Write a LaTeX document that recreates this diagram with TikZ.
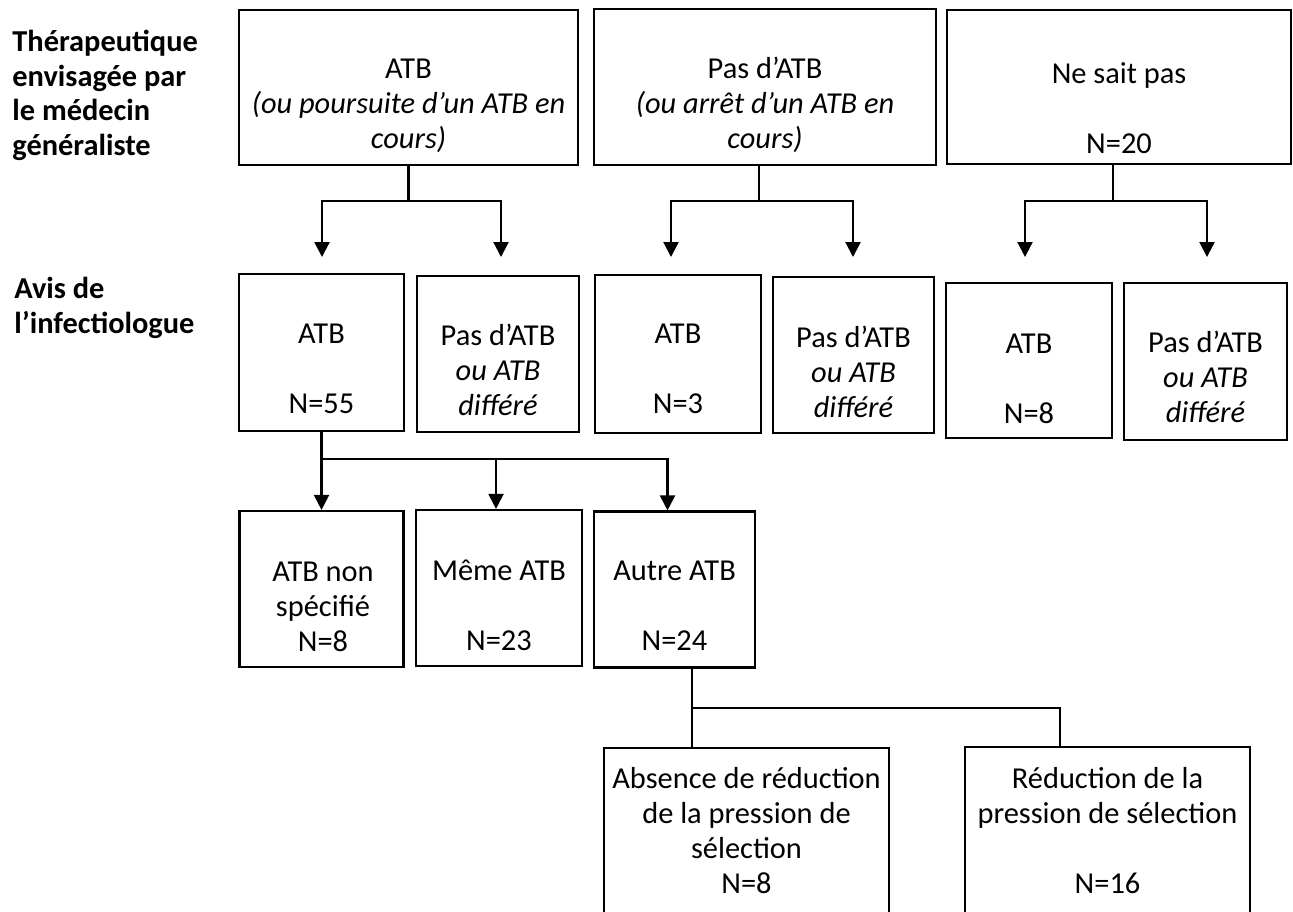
\documentclass[tikz,border=0pt]{standalone}
\usepackage{fontspec}
\setmainfont{Carlito}
\usetikzlibrary{arrows.meta}

\tikzset{
  box/.style={draw, rectangle, line width=1.1pt, inner sep=0pt},
  txt/.style={align=center, inner sep=0pt, anchor=base},
  lbl/.style={align=left, inner sep=0pt, anchor=base west, font=\fontsize{15.2}{17.25}\selectfont\bfseries},
  lien/.style={line width=1.1pt},
  arr/.style={line width=1.1pt, -{Triangle[length=7.5pt,width=7.5pt]}}
}

\begin{document}
\begin{tikzpicture}[x=0.5pt, y=-0.5pt, font=\fontsize{15.2}{17.5}\selectfont]
        \useasboundingbox (0,0) rectangle (1293,911);
        \fill[white] (0,0) rectangle (1293,911);
        \clip (0,0) rectangle (1293,911);

        % row titles (anchor = baseline of last line)
        \node[lbl] (lbl1) at (12,155) {Thérapeutique\\envisagée par\\le médecin\\généraliste};
        \node[lbl] (lbl2) at (14,333) {Avis de\\l’infectiologue};

        % therapeutique du medecin generaliste
        \node[box, minimum width=169.5pt, minimum height=77.5pt] (th1) at (408.5,87.5) {};
        \node[box, minimum width=171pt, minimum height=78pt] (th2) at (765,87) {};
        \node[box, minimum width=172pt, minimum height=77pt] (th3) at (1119,87) {};
        \node[txt] (th1t) at (408.5,148) {ATB\\\textit{(ou poursuite d’un ATB en}\\\textit{cours)}};
        \node[txt] (th2t) at (765,148) {Pas d’ATB\\\textit{(ou arrêt d’un ATB en}\\\textit{cours)}};
        \node[txt] (th3t) at (1119,153) {Ne sait pas\\[17.5pt]N=20};

        % avis de l'infectiologue
        \node[box, minimum width=82.5pt, minimum height=78.5pt] (av1) at (321.5,352.5) {};
        \node[box, minimum width=81pt, minimum height=78pt] (av2) at (498,354) {};
        \node[box, minimum width=83pt, minimum height=79pt] (av3) at (678,354) {};
        \node[box, minimum width=80.5pt, minimum height=78pt] (av4) at (853.5,355) {};
        \node[box, minimum width=83pt, minimum height=77.5pt] (av5) at (1029,360.5) {};
        \node[box, minimum width=81.5pt, minimum height=78.5pt] (av6) at (1205.5,361.5) {};
        \node[txt] (av1t) at (321.5,413) {ATB\\[17.5pt]N=55};
        \node[txt] (av2t) at (498,415) {Pas d’ATB\\\textit{ou ATB}\\\textit{différé}};
        \node[txt] (av3t) at (678,413) {ATB\\[17.5pt]N=3};
        \node[txt] (av4t) at (853.5,417) {Pas d’ATB\\\textit{ou ATB}\\\textit{différé}};
        \node[txt] (av5t) at (1029,423) {ATB\\[17.5pt]N=8};
        \node[txt] (av6t) at (1205.5,422) {Pas d’ATB\\\textit{ou ATB}\\\textit{différé}};

        % choix de l'ATB
        \node[box, minimum width=82pt, minimum height=78pt] (ab1) at (321.5,589) {};
        \node[box, minimum width=83pt, minimum height=78pt] (ab2) at (499,588) {};
        \node[box, minimum width=80.5pt, minimum height=78pt] (ab3) at (674.5,589.5) {};
        \node[txt] (ab1t) at (323,651) {ATB non\\spécifié\\N=8};
        \node[txt] (ab2t) at (499,650) {Même ATB\\[17.5pt]N=23};
        \node[txt] (ab3t) at (674.5,650) {Autre ATB\\[17.5pt]N=24};

        % pression de selection
        \node[box, minimum width=142.5pt, minimum height=106pt] (red1) at (746.5,854) {};
        \node[box, minimum width=142.5pt, minimum height=106.5pt] (red2) at (1107.5,853.5) {};
        \node[txt] (red1t) at (746.5,893) {Absence de réduction\\de la pression de\\sélection\\N=8};
        \node[txt] (red2t) at (1107.5,893) {Réduction de la\\pression de sélection\\[17.5pt]N=16};

        % branchements
        \coordinate (j1) at (408.5,201);
        \coordinate (j2) at (759,201);
        \coordinate (j3) at (1113,201);
        \coordinate (a1) at (322,257);
        \coordinate (a2) at (501,257);
        \coordinate (a3) at (671,257);
        \coordinate (a4) at (853,257);
        \coordinate (a5) at (1025,257);
        \coordinate (a6) at (1207,257);
        \coordinate (j4) at (321.5,459);
        \coordinate (j5) at (692,708);
        \coordinate (j6) at (1060,708);

        \draw[lien] (th1.south) -- (j1);
        \draw[arr] (j1) -| (a1);
        \draw[arr] (j1) -| (a2);
        \draw[lien] (th2.south -| j2) -- (j2);
        \draw[arr] (j2) -| (a3);
        \draw[arr] (j2) -| (a4);
        \draw[lien] (th3.south -| j3) -- (j3);
        \draw[arr] (j3) -| (a5);
        \draw[arr] (j3) -| (a6);

        \draw[lien] (av1.south) -- (j4);
        \draw[arr] (j4) -- (ab1.north);
        \draw[arr] (j4) -| ([xshift=-1.5pt]ab2.north);
        \draw[arr] (j4) -| ([xshift=-3.5pt]ab3.north);

        \draw[lien] (ab3.south -| j5) -- (red1.north -| j5);
        \draw[lien] (j5) -- (j6) -- (j6 |- red2.north);
    \end{tikzpicture}
\end{document}
